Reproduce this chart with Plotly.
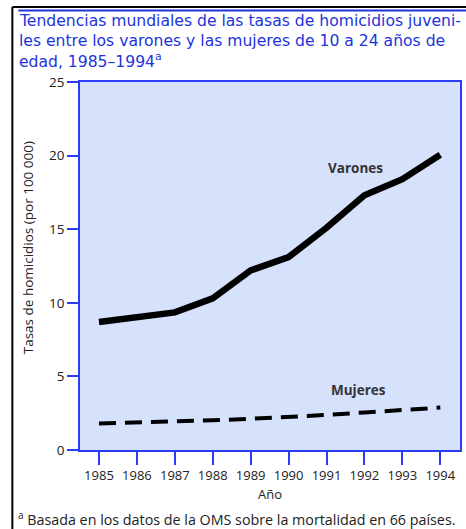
import plotly.graph_objects as go

years = [1985, 1986, 1987, 1988, 1989, 1990, 1991, 1992, 1993, 1994]
varones = [8.7, 9.05, 9.35, 10.3, 12.2, 13.1, 15.1, 17.3, 18.4, 20.05]
mujeres = [1.8, 1.87, 1.9, 2.02, 2.12, 2.22, 2.38, 2.55, 2.7, 2.88]
y_ticks = [0, 5, 10, 15, 20, 25]

title_lines = [
    "Tendencias mundiales de las tasas de homicidios juveni-",
    "les entre los varones y las mujeres de 10 a 24 años de",
    "edad, 1985–1994<sup>a</sup>",
]
footnote = "<sup>a</sup> Basada en los datos de la OMS sobre la mortalidad en 66 países."

W, H = 466, 529
L, R, T, B = 80, 4, 82, 79
pw, ph = W - L - R, H - T - B

def px(x):
    return (x - L) / pw

def py(y):
    return (H - B - y) / ph

FONT = "Open Sans"
BLUE = "#2a3cf5"
TITLE_BLUE = "#2233dd"

fig = go.Figure()
fig.add_trace(go.Scatter(x=years, y=varones, mode="lines",
                         line=dict(color="black", width=6.5), showlegend=False))
fig.add_trace(go.Scatter(x=years, y=mujeres, mode="lines",
                         line=dict(color="black", width=4, dash="17px,9px"), showlegend=False))

fig.update_layout(
    width=W, height=H,
    margin=dict(l=L, r=R, t=T, b=B),
    paper_bgcolor="white",
    plot_bgcolor="#d6e1fb",
    font=dict(family=FONT, color="#222222", size=13),
    xaxis=dict(range=[1984.5, 1994.52], tickmode="array", tickvals=years,
               ticktext=[str(y) for y in years],
               showgrid=False, zeroline=False, showline=True, linecolor=BLUE, linewidth=1.5,
               mirror=True, ticks="outside", ticklen=13, tickcolor=BLUE, tickwidth=1.5,
               tickfont=dict(size=13, color="#222222")),
    yaxis=dict(range=[0, 25], tickmode="array", tickvals=y_ticks,
               showgrid=False, zeroline=False, showline=True, linecolor=BLUE, linewidth=1.5,
               mirror=True, ticks="outside", ticklen=11, tickcolor=BLUE, tickwidth=1.5,
               tickfont=dict(size=13.5, color="#222222")),
)

annotations = []
for i, line in enumerate(title_lines):
    annotations.append(dict(x=px(17), y=py(21 + 20 * i), xref="paper", yref="paper",
                            text=line, showarrow=False, xanchor="left", yanchor="middle",
                            font=dict(family="DejaVu Sans", size=15.6, color=TITLE_BLUE)))
annotations += [
    dict(x=px(28), y=py(248), xref="paper", yref="paper", text="Tasas de homicidios (por 100 000)",
         textangle=-90, showarrow=False, xanchor="center", yanchor="middle",
         font=dict(family=FONT, size=13.5, color="#222222")),
    dict(x=px(271), y=py(494), xref="paper", yref="paper", text="Año", showarrow=False,
         xanchor="center", yanchor="middle", font=dict(family=FONT, size=13, color="#222222")),
    dict(x=px(16), y=py(518.5), xref="paper", yref="paper", text=footnote, showarrow=False,
         xanchor="left", yanchor="middle", font=dict(family=FONT, size=14.3, color="#222222")),
    dict(x=px(357), y=py(168), xref="paper", yref="paper", text="<b>Varones</b>", showarrow=False,
         xanchor="center", yanchor="middle", font=dict(family=FONT, size=13.5, color="#333333")),
    dict(x=px(360), y=py(390), xref="paper", yref="paper", text="<b>Mujeres</b>", showarrow=False,
         xanchor="center", yanchor="middle", font=dict(family=FONT, size=13.5, color="#333333")),
]
fig.update_layout(annotations=annotations)

fig.add_shape(type="line", xref="paper", yref="paper", x0=px(12), x1=px(12), y0=py(7), y1=py(540),
              line=dict(color="black", width=2))
fig.add_shape(type="line", xref="paper", yref="paper", x0=px(12), x1=px(470), y0=py(7), y1=py(7),
              line=dict(color="black", width=2))
fig.add_shape(type="line", xref="paper", yref="paper", x0=px(18), x1=px(470), y0=py(10.5), y1=py(10.5),
              line=dict(color=TITLE_BLUE, width=2))

fig.write_html("out.html", config={"displayModeBar": False},
               post_script="document.body.style.margin='0';document.body.style.overflow='hidden';")
